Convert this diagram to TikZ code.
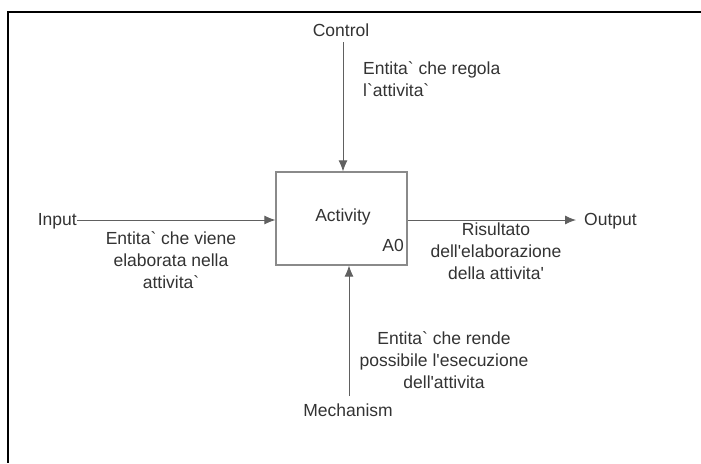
\documentclass[tikz,border=0pt]{standalone}
\usepackage{fontspec}
\setmainfont{Liberation Sans}[Ligatures=TeXOff]
\usetikzlibrary{arrows.meta}
\definecolor{ink}{HTML}{333333}
\definecolor{wire}{HTML}{606060}
\definecolor{boxline}{HTML}{8A8A8A}
\tikzset{
  lbl/.style={inner sep=0pt, text=ink, font=\fontsize{17.5}{22}\selectfont},
  note/.style={lbl, align=center},
  flow/.style={draw=wire, line width=0.9pt, -{Latex[length=11pt,width=9pt]}},
  actbox/.style={draw=boxline, line width=1.2pt, minimum width=131pt, minimum height=93pt, inner sep=0pt}
}
\begin{document}
\begin{tikzpicture}[x=1pt,y=-1pt]
\useasboundingbox (0,0) rectangle (701,463);
\fill[white] (0,0) rectangle (701,463);
% outer frame (top and left edges)
\draw[line width=2pt, black] (701,12) -- (8,12) -- (8,463);

% activity box
\node[actbox] (act) at (341.5,218.5) {};
\node[lbl] (actname) at (343,217) {Activity};
\node[lbl, anchor=south east] (code) at (404,252) {A0};

% labels of the four arrows
\node[lbl] (ctrl) at (341,30) {Control};
\node[lbl, anchor=east] (inp) at (77,221) {Input};
\node[lbl, anchor=west] (outp) at (584,221) {Output};
\node[lbl] (mech) at (348,410) {Mechanism};

\coordinate (ctrlend) at (343,42);
\coordinate (mechend) at (349,396);
\coordinate (outend) at (576,220);

% arrows
\draw[flow] (ctrlend) -- (ctrlend |- act.north);
\draw[flow] (mechend) -- (mechend |- act.south);
\draw[flow] (inp.east |- 0,220) -- (act.west |- 0,220);
\draw[flow] (act.east |- 0,220) -- (outend);

% descriptions
\node[lbl, align=left, anchor=north west] (ctrltxt) at (363,61) {Entita` che regola\\ l`attivita`};
\node[note, anchor=north] (inptxt) at (171,231) {Entita` che viene\\elaborata nella\\attivita`};
\node[note, anchor=north] (outtxt) at (496,223) {Risultato\\dell'elaborazione\\della attivita'};
\node[note, anchor=north] (mechtxt) at (444,331) {Entita` che rende\\possibile l'esecuzione\\dell'attivita};
\end{tikzpicture}
\end{document}
